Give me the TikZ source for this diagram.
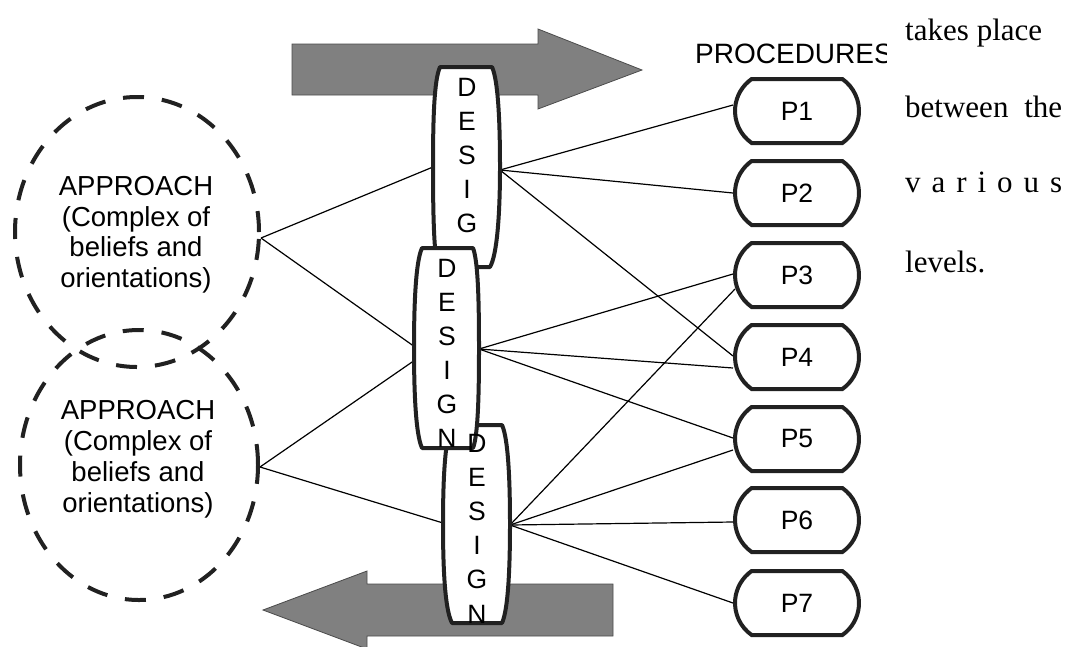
\documentclass[tikz,border=0pt]{standalone}
\usepackage{fontspec}
\setmainfont{Liberation Serif}
\setsansfont{Liberation Sans}
\usetikzlibrary{shapes.geometric,shapes.misc}
\begin{document}
\begin{tikzpicture}[x=1pt,y=-1pt,
  garrow/.style={fill=gray, draw=black!70, line width=0.8pt},
  dbox/.style={draw=black!87, line width=4pt, fill=white, line join=round},
  pbox/.style={rounded rectangle, rounded rectangle arc length=110, draw=black!87,
    line width=4pt, minimum width=124pt, minimum height=64pt, inner sep=0pt,
    fill=white, font=\sffamily\fontsize{26.5}{26.5}\selectfont},
  appr/.style={ellipse, draw=black!87, line width=4pt, dash pattern=on 21pt off 18pt,
    inner sep=0pt},
  conn/.style={draw=black, line width=1.2pt},
  lett/.style={font=\sffamily\fontsize{26.5}{26.5}\selectfont, anchor=base, inner sep=0pt},
  atext/.style={font=\sffamily\fontsize{27.5}{27.5}\selectfont, anchor=base, inner sep=0pt},
  rtext/.style={font=\rmfamily\fontsize{31}{31}\selectfont, anchor=base west, inner sep=0pt}]
\clip (0,0) rectangle (1075,646);
\fill[white] (0,0) rectangle (1075,646);

% approach ellipses
\node[appr, minimum width=244pt, minimum height=270pt] (A1) at (137,232) {};
\node[appr, minimum width=238pt, minimum height=270pt] (A2) at (139,465) {};
\node[atext] (a1l1) at (136,195) {APPROACH};
\node[atext] (a1l2) at (136,226) {(Complex of};
\node[atext] (a1l3) at (136,256) {beliefs and};
\node[atext] (a1l4) at (136,287) {orientations)};
\node[atext] (a2l1) at (138,419) {APPROACH};
\node[atext] (a2l2) at (138,450) {(Complex of};
\node[atext] (a2l3) at (138,481) {beliefs and};
\node[atext] (a2l4) at (138,512) {orientations)};

% big arrows
\draw[garrow] (292,44) -- (538,44) -- (538,29) -- (642,70) -- (538,109) -- (538,95) -- (292,95) -- cycle;
\draw[garrow] (613,584) -- (367,584) -- (367,571) -- (263,610) -- (367,649) -- (367,636) -- (613,636) -- cycle;

% procedure boxes
\node[pbox] (P1) at (797,111) {P1};
\node[pbox] (P2) at (797,193) {P2};
\node[pbox] (P3) at (797,275) {P3};
\node[pbox] (P4) at (797,357) {P4};
\node[pbox] (P5) at (797,439) {P5};
\node[pbox] (P6) at (797,520) {P6};
\node[pbox] (P7) at (797,603) {P7};

% connection points on the design boxes
\coordinate (D1L) at (433,167);
\coordinate (D1R) at (500,170);
\coordinate (D2La) at (415,347);
\coordinate (D2Lb) at (415,360);
\coordinate (D2R) at (479,349);
\coordinate (D3L) at (443,523);
\coordinate (D3R) at (510,525);
\coordinate (V1) at ([yshift=-6pt]A1.east);
\coordinate (V2) at ([yshift=-2pt]A2.east);

% connectors
\draw[conn] (V1) -- (D1L);
\draw[conn] (V1) -- (D2La);
\draw[conn] (V2) -- (D2Lb);
\draw[conn] (V2) -- (D3L);
\draw[conn] (D1R) -- ([yshift=6pt]P1.west);
\draw[conn] (D1R) -- (P2.west);
\draw[conn] (D1R) -- ([yshift=1pt]P4.west);
\draw[conn] (D2R) -- ([yshift=1pt]P3.west);
\draw[conn] (D2R) -- ([yshift=-11pt]P4.west);
\draw[conn] (D2R) -- ([yshift=1pt]P5.west);
\draw[conn] (D3R) -- ([xshift=2pt,yshift=-14pt]P3.west);
\draw[conn] (D3R) -- ([yshift=-11pt]P5.west);
\draw[conn] (D3R) -- ([yshift=-2pt]P6.west);
\draw[conn] (D3R) -- (P7.west);

% design boxes
\draw[dbox] (440,67) -- (492,67) .. controls (498,80) and (500,120) .. (500,167)
  .. controls (500,215) and (497,255) .. (490,267) -- (438,267)
  .. controls (434,255) and (433,215) .. (433,167)
  .. controls (433,120) and (434,80) .. (440,67) -- cycle;
\foreach \l [count=\i from 0] in {D,E,S,I,G}
  \node[lett] (d1\i) at (467,{96+34*\i}) {\l};
\draw[dbox] (452,425) -- (502,425) .. controls (508,438) and (510,478) .. (510,524)
  .. controls (510,570) and (508,610) .. (502,623) -- (452,623)
  .. controls (445,610) and (443,570) .. (443,524)
  .. controls (443,478) and (445,438) .. (452,425) -- cycle;
\draw[dbox] (422,248) -- (473,248) .. controls (478,261) and (479,300) .. (479,348)
  .. controls (479,396) and (478,435) .. (473,448) -- (422,448)
  .. controls (416,435) and (414,396) .. (414,348)
  .. controls (414,300) and (416,261) .. (422,248) -- cycle;
\foreach \l [count=\i from 0] in {D,E,S,I,G,N}
  \node[lett] (d2\i) at (447,{277+34*\i}) {\l};
\foreach \l [count=\i from 0] in {D,E,S,I,G,N}
  \node[lett] (d3\i) at (477,{452+34.2*\i}) {\l};

% heading
\begin{scope}
\clip (690,30) rectangle (886,75);
\node[font=\sffamily\fontsize{28}{28}\selectfont, anchor=base west, inner sep=0pt] (proc) at (695,63) {PROCEDURES};
\end{scope}

% running text
\node[rtext] (t1) at (905,40) {\makebox[137pt][s]{takes place}};
\node[rtext] (t2) at (905,117) {\makebox[157pt][s]{between the}};
\node[rtext] (t3) at (905,192) {\makebox[157pt][s]{v a r i o u s}};
\node[rtext] (t4) at (905,272) {levels.};
\end{tikzpicture}
\end{document}
